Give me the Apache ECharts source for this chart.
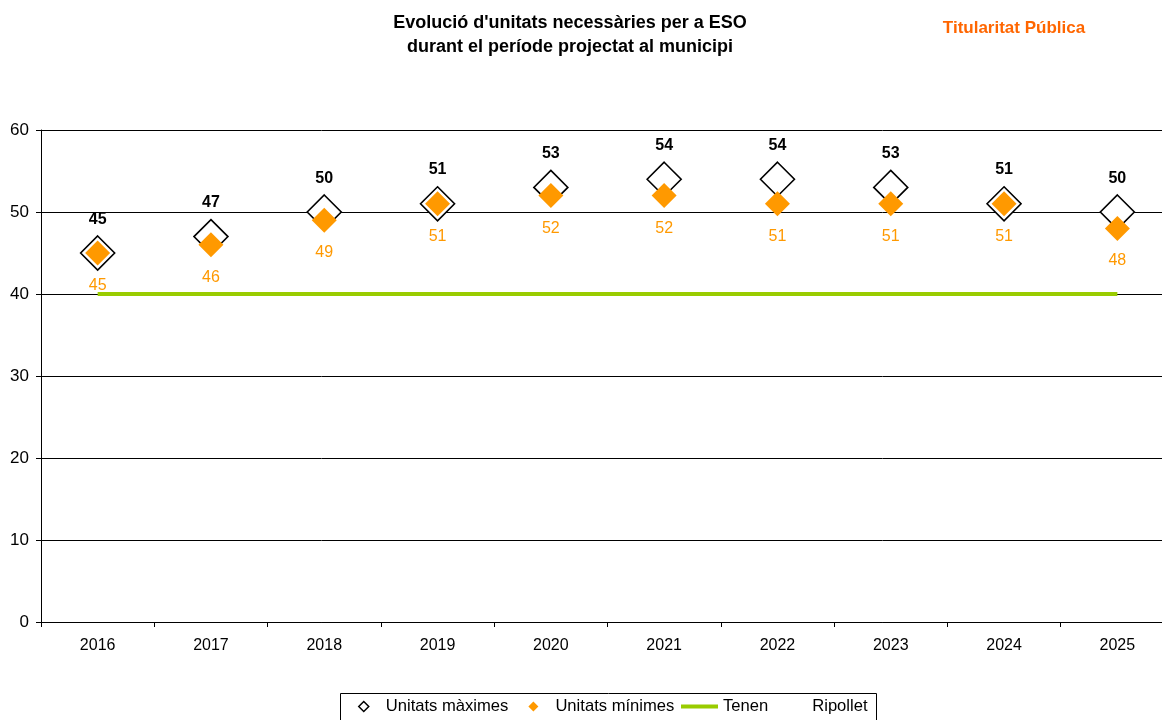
<!DOCTYPE html>
<html><head><meta charset="utf-8">
<script src="https://cdn.jsdelivr.net/npm/echarts@6/dist/echarts.min.js"></script>
<style>html,body{margin:0;padding:0;background:#fff}#c{width:1162px;height:720px}</style>
</head><body><div id="c"></div>
<script>
var years = ['2016','2017','2018','2019','2020','2021','2022','2023','2024','2025'];
var unitatsMaximes = [45,47,50,51,53,54,54,53,51,50];
var unitatsMinimes = [45,46,49,51,52,52,51,51,51,48];
var tenen = [40,40,40,40,40,40,40,40,40,40];
var yTicks = {min:0, max:60, interval:10};

var chart = echarts.init(document.getElementById('c'), null, {renderer:'canvas'});
var F = 'Liberation Sans, Arial, sans-serif';
chart.setOption({
  animation:false,
  textStyle:{fontFamily:F},
  title:[{
    text:"Evolució d'unitats necessàries per a ESO\ndurant el període projectat al municipi",
    left:565, top:6, textAlign:'center',
    textStyle:{fontFamily:F, fontSize:18, fontWeight:'bold', color:'#000', lineHeight:24}
  },{
    text:'Titularitat Pública', left:1009, top:15, textAlign:'center',
    textStyle:{fontFamily:F, fontSize:17, fontWeight:'bold', color:'#FF6600'}
  }],
  graphic:[{
    type:'rect', left:338, top:691, silent:true,
    shape:{width:536, height:40},
    style:{fill:'none', stroke:'#000', lineWidth:1}
  }],
  legend:[{
    left:358, top:698, padding:0, itemGap:20, itemWidth:10, itemHeight:10,
    textStyle:{fontFamily:F, fontSize:16.6, color:'#000', padding:[0,0,0,12]},
    data:[
      {name:'Unitats màximes', icon:'diamond', itemStyle:{color:'#fff', borderColor:'#000', borderWidth:1.5}},
      {name:'Unitats mínimes', icon:'diamond', itemStyle:{color:'#FF9900', borderWidth:0}}
    ]
  },{
    left:681, top:698, padding:0, itemGap:2, itemWidth:37, itemHeight:4,
    textStyle:{fontFamily:F, fontSize:16.6, color:'#000'},
    data:[
      {name:'Tenen', icon:'rect', itemStyle:{color:'#99CC00'}},
      {name:'Ripollet', icon:'rect', itemStyle:{opacity:0}}
    ]
  }],
  grid:{left:41, width:1133, top:130, bottom:98, outerBoundsMode:'none'},
  xAxis:{
    type:'category', data:years, boundaryGap:true,
    axisLine:{lineStyle:{color:'#000', width:1}},
    axisTick:{show:true, length:5, lineStyle:{color:'#000'}},
    axisLabel:{fontFamily:F, fontSize:16, color:'#000', margin:16}
  },
  yAxis:{
    type:'value', min:yTicks.min, max:yTicks.max, interval:yTicks.interval,
    axisLine:{show:true, lineStyle:{color:'#000'}},
    axisTick:{show:true, length:5, lineStyle:{color:'#000'}},
    axisLabel:{fontFamily:F, fontSize:17, color:'#000', margin:12},
    splitLine:{lineStyle:{color:'#000', width:1}}
  },
  series:[
    {name:'Tenen', type:'line', data:tenen, symbol:'none',
     lineStyle:{color:'#99CC00', width:4}, itemStyle:{color:'#99CC00'}, z:2},
    {name:'Unitats màximes', type:'scatter', data:unitatsMaximes, symbol:'diamond', symbolSize:34,
     itemStyle:{color:'#fff', borderColor:'#000', borderWidth:1.6, opacity:1},
     label:{show:true, position:'top', distance:8, fontFamily:F, fontSize:16, fontWeight:'bold', color:'#000'}, z:3},
    {name:'Unitats mínimes', type:'scatter', data:unitatsMinimes, symbol:'diamond', symbolSize:25,
     itemStyle:{color:'#FF9900', opacity:1},
     label:{show:true, position:'bottom', distance:12, fontFamily:F, fontSize:16, color:'#FF9900'}, z:4},
    {name:'Ripollet', type:'line', data:[], symbol:'none', lineStyle:{opacity:0}}
  ]
});
</script></body></html>
